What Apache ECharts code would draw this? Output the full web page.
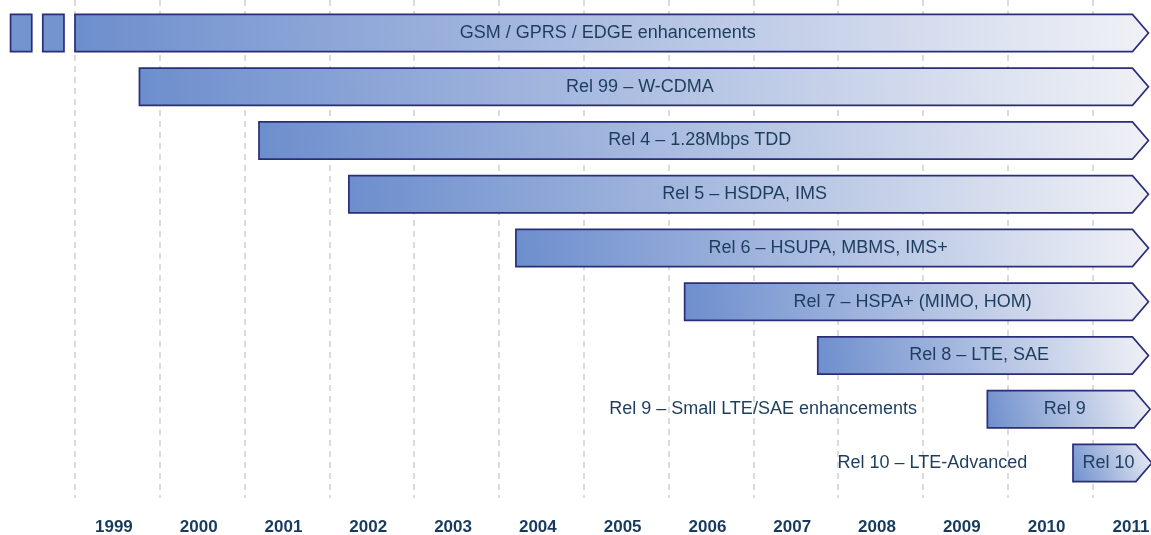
<!DOCTYPE html>
<html>
<head>
<meta charset="utf-8">
<script src="https://cdn.jsdelivr.net/npm/echarts@6/dist/echarts.min.js"></script>
<style>
  html, body { margin: 0; padding: 0; background: #fff; }
  #chart { width: 1151px; height: 535px; }
</style>
</head>
<body>
<div id="chart"></div>
<script>
// years shown under the timeline (each label sits in the middle of its year)
var years = [1999, 2000, 2001, 2002, 2003, 2004, 2005, 2006, 2007, 2008, 2009, 2010, 2011];

// one row per release
var releases = [
  'GSM / GPRS / EDGE enhancements',
  'Rel 99 – W-CDMA',
  'Rel 4 – 1.28Mbps TDD',
  'Rel 5 – HSDPA, IMS',
  'Rel 6 – HSUPA, MBMS, IMS+',
  'Rel 7 – HSPA+ (MIMO, HOM)',
  'Rel 8 – LTE, SAE',
  'Rel 9',
  'Rel 10'
];
var startYear = [1999.0, 1999.76, 2001.17, 2002.23, 2004.2, 2006.19, 2007.76, 2009.76, 2010.77];
var endYear = [2011.66, 2011.66, 2011.66, 2011.66, 2011.66, 2011.66, 2011.66, 2011.68, 2011.7];

// text written beside the short bars
var noteRows = [7, 8];
var noteText = ['Rel 9 – Small LTE/SAE enhancements', 'Rel 10 – LTE-Advanced'];
var noteEnd = [2008.93, 2010.23];

// the two small blocks before GSM
var preStart = [1998.24, 1998.62];
var preEnd = [1998.49, 1998.87];

var textColor = '#1d3d5e';
var fontFamily = '"Liberation Sans", Arial, sans-serif';

var barData = releases.map(function (name, i) {
  return [startYear[i], endYear[i], i, name];
});
var noteData = noteText.map(function (t, i) {
  return [noteEnd[i], noteRows[i], t];
});
var preData = preStart.map(function (s, i) {
  return [s, preEnd[i], 0];
});

var myChart = echarts.init(document.getElementById('chart'));

var option = {
  animation: false,
  grid: { left: 75, top: 0, right: 0, height: 498, containLabel: false, outerBoundsMode: 'none' },
  xAxis: {
    type: 'value',
    min: 1999,
    max: 2011.69,
    interval: 1,
    axisLine: { show: false },
    axisTick: { show: false },
    axisLabel: {
      margin: 21,
      align: 'left',
      padding: [0, 0, 0, 20],
      color: '#173b5e',
      fontSize: 17,
      fontWeight: 'bold',
      fontFamily: fontFamily,
      showMaxLabel: false,
      formatter: function (v) {
        return years.indexOf(v) >= 0 ? String(v) : '';
      }
    },
    splitLine: {
      show: true,
      showMaxLine: false,
      lineStyle: { color: '#d0d0d0', width: 1.5, type: [6, 5] }
    }
  },
  yAxis: {
    type: 'value',
    min: -0.614,
    max: 8.651,
    inverse: true,
    show: false
  },
  series: [
    {
      // release arrows
      type: 'custom',
      clip: false,
      data: barData,
      renderItem: function (params, api) {
        var row = api.value(2);
        var p0 = api.coord([api.value(0), row]);
        var p1 = api.coord([api.value(1), row]);
        var h = api.size([0, 1])[1] * 0.69;
        var d = 16;
        var top = p0[1] - h / 2;
        var bottom = p0[1] + h / 2;
        return {
          type: 'group',
          children: [
            {
              type: 'polygon',
              shape: {
                points: [
                  [p0[0], top],
                  [p1[0] - d, top],
                  [p1[0], p0[1]],
                  [p1[0] - d, bottom],
                  [p0[0], bottom]
                ]
              },
              style: {
                fill: new echarts.graphic.LinearGradient(0, 1, 1, 0, [
                  { offset: 0, color: '#6d8ecd' },
                  { offset: 1, color: '#f0f1f6' }
                ]),
                stroke: '#2b2d78',
                lineWidth: 1.7
              }
            },
            {
              type: 'text',
              style: {
                text: api.value(3),
                x: (p0[0] + p1[0]) / 2 - 4,
                y: p0[1],
                align: 'center',
                verticalAlign: 'middle',
                fill: textColor,
                font: '18px ' + fontFamily
              }
            }
          ]
        };
      }
    },
    {
      // notes beside Rel 9 / Rel 10
      type: 'custom',
      clip: false,
      data: noteData,
      renderItem: function (params, api) {
        var p = api.coord([api.value(0), api.value(1)]);
        return {
          type: 'text',
          style: {
            text: api.value(2),
            x: p[0],
            y: p[1],
            align: 'right',
            verticalAlign: 'middle',
            fill: textColor,
            font: '18px ' + fontFamily
          }
        };
      }
    },
    {
      // small blocks left of 1999
      type: 'custom',
      clip: false,
      data: preData,
      renderItem: function (params, api) {
        var row = api.value(2);
        var p0 = api.coord([api.value(0), row]);
        var p1 = api.coord([api.value(1), row]);
        var h = api.size([0, 1])[1] * 0.69;
        return {
          type: 'rect',
          shape: { x: p0[0], y: p0[1] - h / 2, width: p1[0] - p0[0], height: h },
          style: { fill: '#7394cf', stroke: '#2b2d78', lineWidth: 1.7 }
        };
      }
    }
  ]
};

myChart.setOption(option);
</script>
</body>
</html>
